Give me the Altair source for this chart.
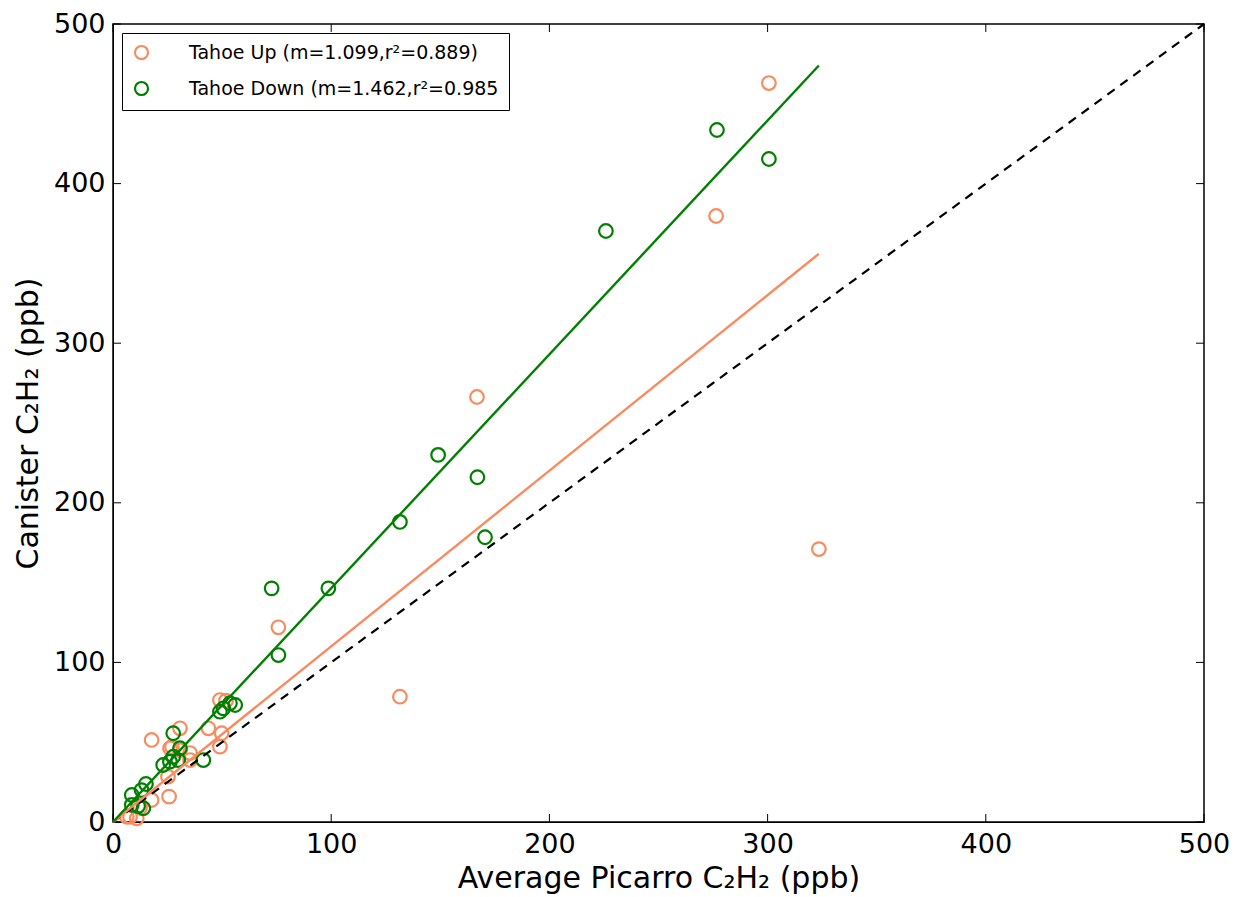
import altair as alt
import pandas as pd

# Tahoe Up (orange) scatter values
up_x = [300.6, 276.4, 166.8, 75.8, 131.5, 323.5, 17.7, 30.7, 43.7, 49.0, 51.8, 49.8, 49.0,
        35.3, 30.7, 35.3, 26.1, 25.7, 25.2, 17.7, 12.4, 7.8, 10.9, 6.3, 27.0]
up_y = [463.0, 379.7, 266.3, 122.0, 78.5, 171.0, 51.4, 58.7, 58.7, 76.4, 76.0, 55.6, 47.2,
        43.2, 45.0, 38.8, 46.2, 15.9, 28.4, 13.8, 8.8, 3.3, 2.3, 3.3, 47.0]

# Tahoe Down (green) scatter values
down_x = [276.8, 300.6, 225.9, 149.0, 167.0, 131.5, 170.5, 98.7, 72.7, 75.8, 49.0, 53.6, 56.0,
          50.6, 27.6, 30.7, 27.6, 26.1, 29.9, 41.4, 23.0, 15.1, 13.1, 8.6, 8.6, 13.9, 11.5]
down_y = [433.6, 415.4, 370.3, 230.0, 216.0, 188.0, 178.4, 146.4, 146.4, 104.6, 69.1, 74.4, 73.3,
          71.2, 55.6, 46.2, 40.9, 37.8, 38.8, 38.8, 35.7, 23.8, 20.0, 16.9, 10.7, 8.6, 10.0]

labels = ["Tahoe Up (m=1.099,r²=0.889)", "Tahoe Down (m=1.462,r²=0.985"]
colors = ["#F88B60", "#008000"]

# fit line end points
up_fit_x = [0, 323.5]
up_fit_y = [0, 356.0]
down_fit_x = [0, 323.5]
down_fit_y = [0, 474.0]
one_x = [0, 500]
one_y = [0, 500]

tick_vals = [0, 100, 200, 300, 400, 500]

W, H = 1091, 798
FONT = "DejaVu Sans"

pts = pd.DataFrame({
    "x": up_x + down_x,
    "y": up_y + down_y,
    "series": [labels[0]] * len(up_x) + [labels[1]] * len(down_x),
})

xs = alt.Scale(domain=[0, 500], nice=False, zero=False)
ys = alt.Scale(domain=[0, 500], nice=False, zero=False)

xaxis = alt.Axis(title="Average Picarro C₂H₂ (ppb)", values=tick_vals, grid=False, tickSize=0,
                 labelPadding=9, titlePadding=6, labelFontSize=27, titleFontSize=30,
                 labelFont=FONT, titleFont=FONT, titleFontWeight="normal",
                 labelColor="black", titleColor="black", domainColor="black",
                 labelFlush=False)
yaxis = alt.Axis(title="Canister C₂H₂ (ppb)", values=tick_vals, grid=False, tickSize=0,
                 labelPadding=8, titlePadding=10, labelFontSize=27, titleFontSize=30,
                 labelFont=FONT, titleFont=FONT, titleFontWeight="normal",
                 labelColor="black", titleColor="black", domainColor="black",
                 labelFlush=False)

points = alt.Chart(pts).mark_point(filled=False, size=185, strokeWidth=2.2, opacity=1).encode(
    x=alt.X("x:Q", scale=xs, axis=xaxis),
    y=alt.Y("y:Q", scale=ys, axis=yaxis),
    color=alt.Color("series:N", scale=alt.Scale(domain=labels, range=colors),
                    legend=alt.Legend(title=None, orient="top-left", offset=9, padding=10,
                                      strokeColor="black", fillColor="white",
                                      labelFont=FONT, labelFontSize=19, labelColor="black",
                                      symbolType="circle", symbolSize=170, symbolStrokeWidth=2.2,
                                      symbolFillColor="transparent", labelOffset=38,
                                      rowPadding=13, labelLimit=500)),
)

def fit_line(xv, yv, col):
    df = pd.DataFrame({"x": xv, "y": yv})
    return alt.Chart(df).mark_line(color=col, strokeWidth=2.4).encode(
        x=alt.X("x:Q", scale=xs), y=alt.Y("y:Q", scale=ys))

up_line = fit_line(up_fit_x, up_fit_y, colors[0])
down_line = fit_line(down_fit_x, down_fit_y, colors[1])
one_line = alt.Chart(pd.DataFrame({"x": one_x, "y": one_y})).mark_line(
    color="black", strokeWidth=2.2, strokeDash=[9, 7]).encode(
    x=alt.X("x:Q", scale=xs), y=alt.Y("y:Q", scale=ys))

tdf = pd.DataFrame({"v": tick_vals})
tick_len = 8
bt = alt.Chart(tdf).mark_rule(color="black", strokeWidth=1).encode(
    x=alt.X("v:Q", scale=xs), y=alt.value(H), y2=alt.value(H - tick_len))
tt = alt.Chart(tdf).mark_rule(color="black", strokeWidth=1).encode(
    x=alt.X("v:Q", scale=xs), y=alt.value(0), y2=alt.value(tick_len))
lt = alt.Chart(tdf).mark_rule(color="black", strokeWidth=1).encode(
    y=alt.Y("v:Q", scale=ys), x=alt.value(0), x2=alt.value(tick_len))
rt = alt.Chart(tdf).mark_rule(color="black", strokeWidth=1).encode(
    y=alt.Y("v:Q", scale=ys), x=alt.value(W), x2=alt.value(W - tick_len))

chart = alt.layer(bt, tt, lt, rt, points, one_line, up_line, down_line).properties(
    width=W, height=H,
    autosize=alt.AutoSizeParams(type="none"),
    padding={"left": 113, "top": 24, "right": 39, "bottom": 75},
    background="white",
).configure_view(stroke="black", strokeWidth=1.5)

chart.save("out.html", embed_options={"renderer": "svg", "actions": False})
